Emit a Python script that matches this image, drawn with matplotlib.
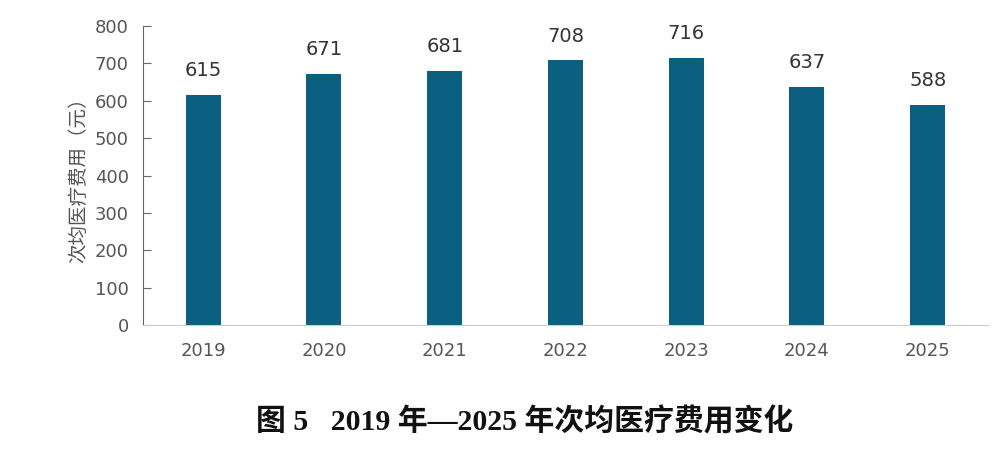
import matplotlib.pyplot as plt
import numpy as np

plt.rcParams['font.family'] = ['DejaVu Sans', 'Noto Sans CJK SC']

years = ['2019', '2020', '2021', '2022', '2023', '2024', '2025']
cost = [615, 671, 681, 708, 716, 637, 588]
yticks = [0, 100, 200, 300, 400, 500, 600, 700, 800]

fig = plt.figure(figsize=(9.99, 4.58), dpi=100)
ax = fig.add_axes([0.143, 0.290, 0.846, 0.653])

x = np.arange(len(years))
ax.bar(x, cost, width=0.29, color='#0b5f80')
for xi, v in zip(x, cost):
    ax.text(xi, v + 40, str(v), ha='center', va='bottom', fontsize=14, color='#333333')

ax.set_xlim(-0.5, len(years) - 0.5)
ax.set_ylim(0, 800)
ax.set_yticks(yticks)
ax.set_xticks(x)
ax.set_xticklabels(years)
ax.tick_params(axis='y', direction='in', length=6, color='#666666', labelsize=13,
               labelcolor='#555555', pad=10)
ax.tick_params(axis='x', length=0, labelsize=13, labelcolor='#555555', pad=12)
for s in ['top', 'right']:
    ax.spines[s].set_visible(False)
ax.spines['left'].set_color('#666666')
ax.spines['bottom'].set_color('#cccccc')
ax.set_ylabel('次均医疗费用（元）', family=['Noto Sans CJK SC'], fontsize=14,
              color='#555555', labelpad=4)

fig.text(0.525, 0.078, '图 5   2019 年—2025 年次均医疗费用变化', ha='center', va='center',
         fontsize=21.5, fontweight='bold', family=['Liberation Serif', 'Noto Sans CJK SC'],
         color='#111111')

fig.savefig('out.png', dpi=100)
